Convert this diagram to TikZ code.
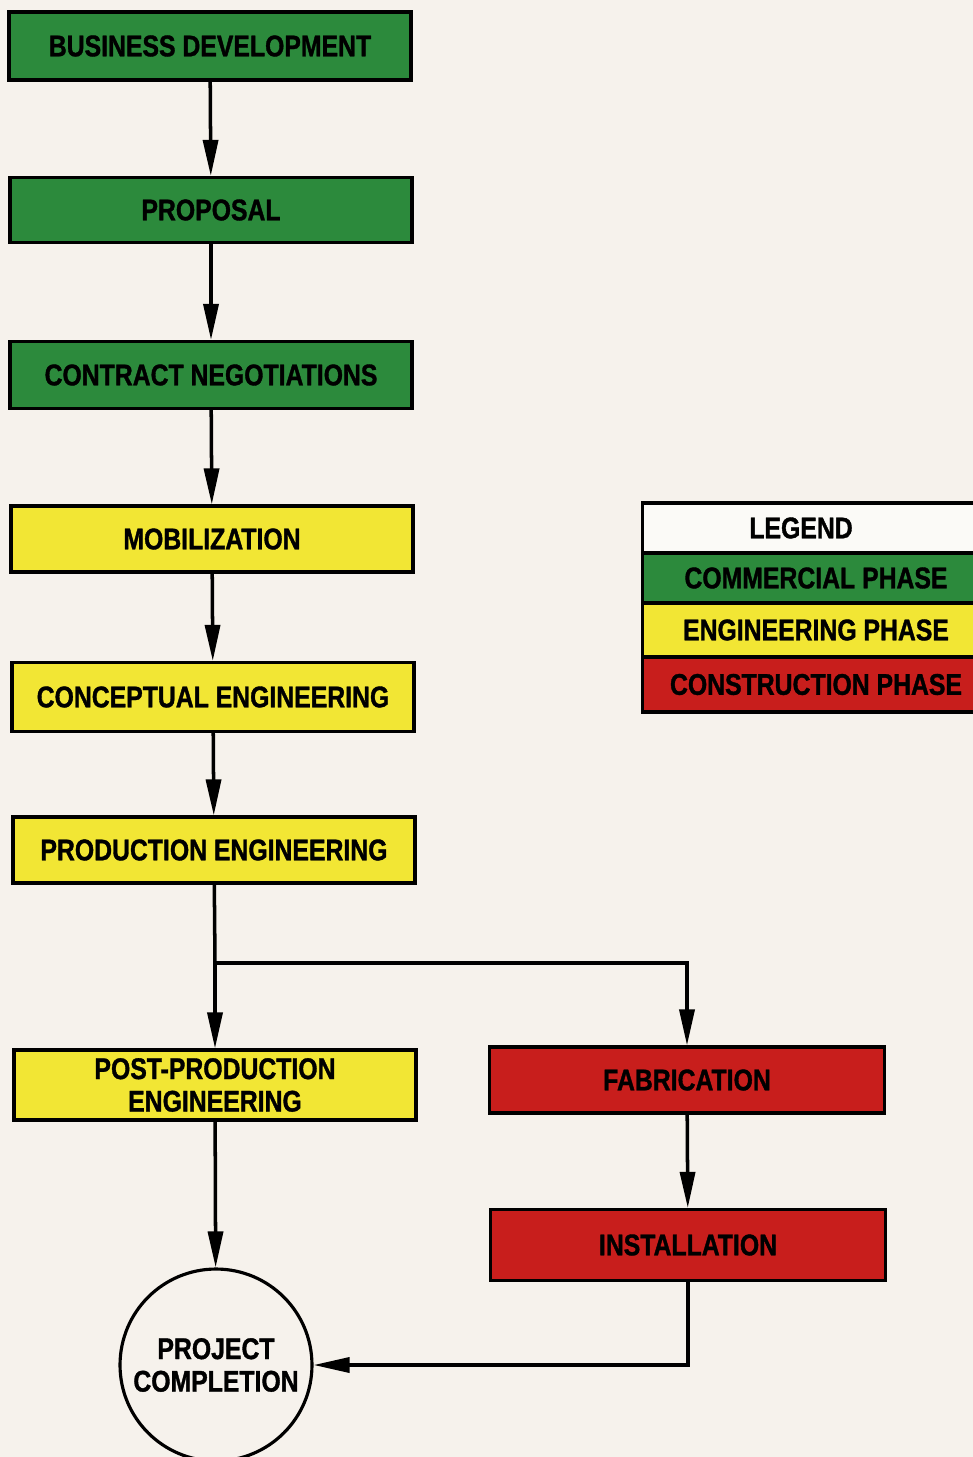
\documentclass[tikz,border=0pt]{standalone}
\usepackage{fontspec}
\setmainfont{Liberation Sans}[FakeStretch=0.83, BoldFeatures={FakeBold=1.2}]
\usetikzlibrary{arrows.meta}

\definecolor{paper}{RGB}{246,242,236}
\definecolor{commercial}{RGB}{44,138,60}
\definecolor{engineering}{RGB}{242,230,52}
\definecolor{construction}{RGB}{200,30,28}

\begin{document}
\begin{tikzpicture}[x = 0.02cm, y = -0.02cm,
        font = \fontsize{17}{18.5}\selectfont\bfseries,
        box/.style = {draw, line width = 1.8pt, minimum width = 8.04cm, minimum height = 1.34cm, inner sep = 0pt, align = center},
        commercial box/.style = {box, fill = commercial},
        engineering box/.style = {box, fill = engineering},
        construction box/.style = {box, fill = construction, minimum width = 7.9cm},
        legend row/.style = {draw, line width = 1.8pt, minimum width = 6.94cm, minimum height = 1cm, inner sep = 0pt},
        flow/.style = {line width = 2pt, -{Triangle[length = 0.72cm, width = 0.3cm]}},
        link/.style = {line width = 2pt}]
        \useasboundingbox (0,0) rectangle (973,1457);
        \fill[paper] (0,0) rectangle (973,1457);

        % left column
        \node[commercial box, minimum height = 1.36cm] (bizdev) at (210,46) {BUSINESS DEVELOPMENT};
        \node[commercial box, minimum height = 1.3cm] (proposal) at (211,210) {PROPOSAL};
        \node[commercial box] (contract) at (211,375) {CONTRACT NEGOTIATIONS};
        \node[engineering box, minimum height = 1.32cm] (mobil) at (212,539) {MOBILIZATION};
        \node[engineering box, minimum height = 1.38cm] (concept) at (213,697) {CONCEPTUAL ENGINEERING};
        \node[engineering box, minimum height = 1.32cm] (prodeng) at (214,850) {PRODUCTION ENGINEERING};
        \node[engineering box, minimum height = 1.4cm] (postprod) at (215,1085) {POST-PRODUCTION\\ENGINEERING};
        \node[draw, circle, line width = 1.8pt, fill = paper, minimum size = 3.84cm, inner sep = 0pt, align = center] (compl) at (216,1365) {PROJECT\\COMPLETION};

        % right column
        \node[construction box, minimum height = 1.32cm] (fab) at (687,1080) {FABRICATION};
        \node[construction box, minimum height = 1.42cm] (install) at (688,1245) {INSTALLATION};

        % legend
        \node[legend row, fill = white!60!paper] (legtitle) at (816,528) {\hspace{-0.6cm}LEGEND};
        \node[legend row, fill = commercial] (legcom) at (816,578) {COMMERCIAL PHASE};
        \node[legend row, fill = engineering, minimum height = 1.08cm] (legeng) at (816,630) {ENGINEERING PHASE};
        \node[legend row, fill = construction, minimum height = 1.1cm] (legcon) at (816,684.5) {CONSTRUCTION PHASE};

        \coordinate (split) at (215,963);

        \draw[flow] (bizdev) -- (proposal);
        \draw[flow] (proposal) -- (contract);
        \draw[flow] (contract) -- (mobil);
        \draw[flow] (mobil) -- (concept);
        \draw[flow] (concept) -- (prodeng);
        \draw[link] (prodeng) -- (split);
        \draw[flow] (split) -- (postprod);
        \draw[flow] (split) -| (fab);
        \draw[flow] (fab) -- (install);
        \draw[flow] (postprod) -- (compl);
        \draw[flow] (install) |- (compl);
    \end{tikzpicture}
\end{document}
